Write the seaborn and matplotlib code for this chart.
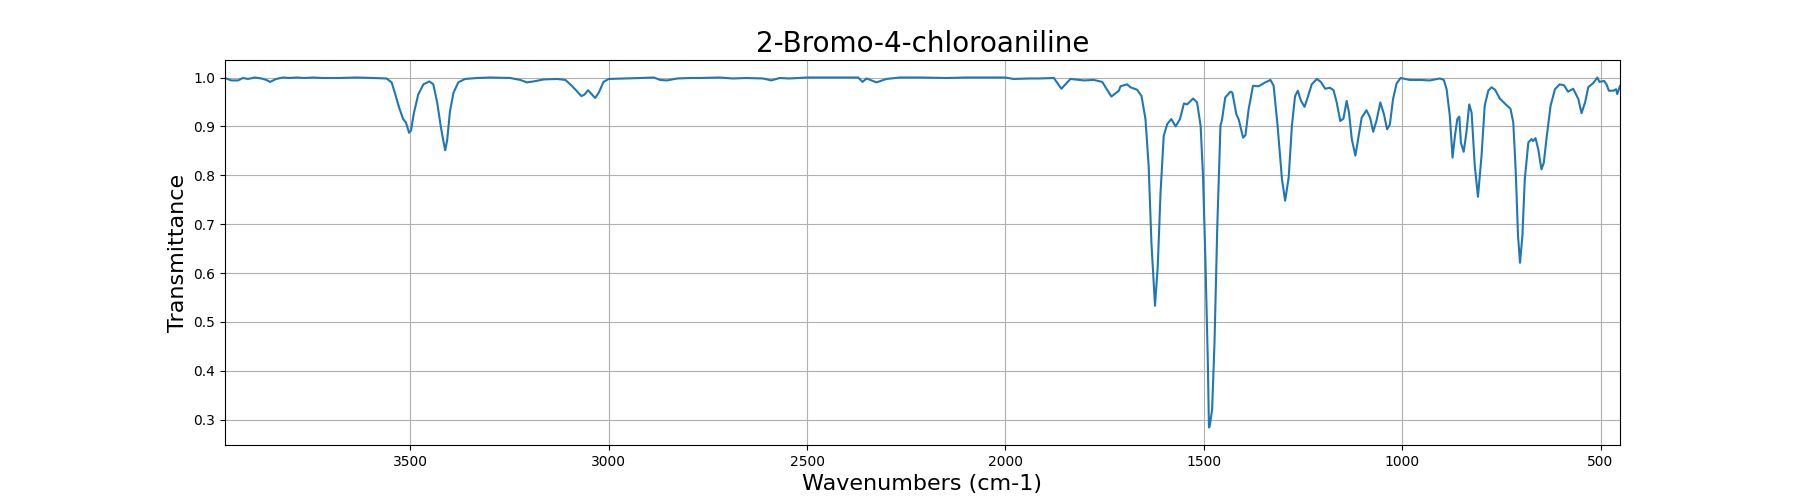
import numpy as np
import pandas as pd
import matplotlib
matplotlib.use('Agg')
import matplotlib.pyplot as plt
import seaborn as sns

# IR spectrum (wavenumber in cm-1, transmittance)
wavenumbers = [
    3967, 3951, 3934, 3922, 3909, 3892, 3875, 3863, 3853, 3838, 3821, 3804, 3787, 3766,
    3745, 3720, 3678, 3636, 3593, 3560, 3547, 3539, 3528, 3518, 3511, 3503, 3498, 3491,
    3480, 3467, 3452, 3442, 3432, 3423, 3417, 3412, 3407, 3400, 3391, 3379, 3362, 3332,
    3299, 3248, 3223, 3206, 3189, 3164, 3130, 3109, 3093, 3080, 3069, 3061, 3052, 3044,
    3034, 3025, 3013, 3000, 2962, 2920, 2886, 2870, 2853, 2827, 2794,
    2771, 2721, 2687, 2653, 2611, 2590, 2569, 2544, 2500, 2443, 2401, 2371, 2360, 2350,
    2325, 2300, 2266, 2215, 2148, 2098, 2039, 2000, 1980, 1938, 1914,
    1878, 1859, 1836, 1802, 1777, 1756, 1733, 1714, 1710, 1693, 1685, 1668, 1657, 1647,
    1639, 1632, 1623, 1616, 1609, 1601, 1592, 1582, 1571, 1560, 1550, 1542, 1527, 1517,
    1508, 1502, 1496, 1490, 1487, 1485, 1479, 1473, 1466, 1458, 1454, 1446, 1433, 1428,
    1418, 1412, 1401, 1395, 1387, 1376, 1362, 1345, 1332, 1324, 1314, 1303, 1295, 1286,
    1278, 1270, 1263, 1255, 1246, 1239, 1228, 1215, 1205, 1194, 1182, 1173, 1165, 1156,
    1148, 1140, 1134, 1127, 1118, 1111, 1102, 1090, 1081, 1073, 1065, 1055, 1046, 1038,
    1031, 1023, 1014, 1004, 981, 955, 930, 905, 895, 888, 880, 873, 867, 861, 856, 852,
    845, 838, 831, 825, 817, 809, 800, 792, 783, 775, 766, 754, 739, 727, 720, 714, 708,
    703, 697, 691, 682, 674, 670, 664, 657, 649, 643, 636, 626, 615, 603, 592, 582, 569,
    556, 548, 539, 531, 518, 508, 503, 491, 485, 479, 468, 461, 458, 451,
]
transmittance = [
    0.999, 0.994, 0.994, 0.999, 0.997, 1.000, 0.998, 0.995, 0.991, 0.997, 1.000, 0.999, 1.000, 0.999,
    1.000, 0.999, 0.999, 1.000, 0.999, 0.998, 0.990, 0.969, 0.938, 0.915, 0.908, 0.887, 0.892, 0.927,
    0.965, 0.986, 0.992, 0.986, 0.948, 0.899, 0.872, 0.851, 0.872, 0.931, 0.969, 0.990, 0.997, 0.999,
    1.000, 0.999, 0.995, 0.990, 0.992, 0.996, 0.997, 0.995, 0.983, 0.972, 0.962, 0.965, 0.974, 0.967,
    0.958, 0.969, 0.991, 0.997, 0.998, 0.999, 1.000, 0.995, 0.994, 0.998, 0.999,
    0.999, 1.000, 0.998, 0.999, 0.998, 0.994, 0.999, 0.998, 1.000, 1.000, 1.000, 1.000, 0.991, 0.998,
    0.990, 0.997, 1.000, 1.000, 0.999, 1.000, 1.000, 1.000, 0.997, 0.998, 0.998,
    0.999, 0.977, 0.997, 0.994, 0.995, 0.991, 0.961, 0.973, 0.982, 0.986, 0.980, 0.975, 0.962, 0.915,
    0.819, 0.662, 0.533, 0.615, 0.765, 0.881, 0.905, 0.915, 0.900, 0.915, 0.947, 0.945, 0.957, 0.949,
    0.901, 0.799, 0.628, 0.424, 0.284, 0.287, 0.321, 0.458, 0.696, 0.901, 0.914, 0.959, 0.971, 0.969,
    0.925, 0.914, 0.877, 0.882, 0.935, 0.983, 0.982, 0.990, 0.995, 0.983, 0.901, 0.792, 0.748, 0.796,
    0.901, 0.962, 0.973, 0.952, 0.940, 0.957, 0.986, 0.997, 0.991, 0.977, 0.979, 0.974, 0.949, 0.911,
    0.916, 0.952, 0.928, 0.874, 0.840, 0.874, 0.918, 0.933, 0.918, 0.889, 0.911, 0.949, 0.925, 0.894,
    0.904, 0.956, 0.988, 0.999, 0.995, 0.995, 0.994, 0.998, 0.995, 0.976, 0.922, 0.836, 0.881, 0.915, 0.920, 0.867,
    0.848, 0.888, 0.945, 0.928, 0.819, 0.756, 0.840, 0.942, 0.973, 0.980, 0.975, 0.957, 0.945, 0.936, 0.908, 0.812, 0.676,
    0.621, 0.676, 0.792, 0.867, 0.874, 0.870, 0.876, 0.853, 0.812, 0.826, 0.877, 0.942, 0.976, 0.986, 0.984, 0.971, 0.977,
    0.956, 0.927, 0.949, 0.980, 0.989, 1.000, 0.991, 0.993, 0.986, 0.973, 0.973, 0.976, 0.966, 0.983,
]

title = '2-Bromo-4-chloroaniline'

df = pd.DataFrame({'Wavenumber': wavenumbers, 'Transmittance': transmittance})

fig, ax = plt.subplots(figsize=(18, 5), dpi=100)
sns.lineplot(data=df, x='Wavenumber', y='Transmittance', estimator=None,
             color='#1f77b4', linewidth=1.5, ax=ax)
ax.set_xlim(max(wavenumbers), min(wavenumbers))
ax.set_title(title, fontsize=20)
ax.set_xlabel('Wavenumbers (cm-1)', fontsize=16)
ax.set_ylabel('Transmittance', fontsize=16)
ax.grid(True)
plt.savefig('out.png', dpi=100)
